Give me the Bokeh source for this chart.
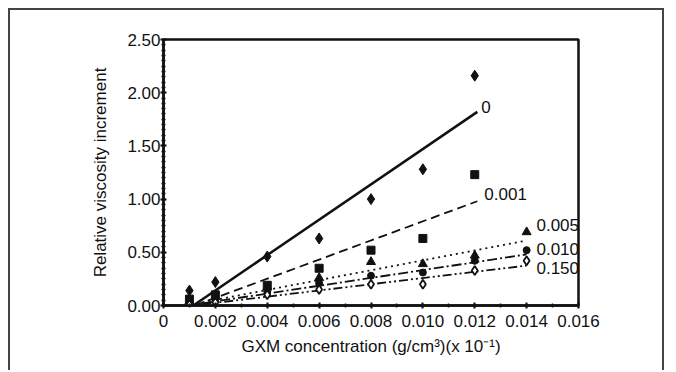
from bokeh.plotting import figure
from bokeh.models import Range1d, FixedTicker, NumeralTickFormatter
from bokeh.core.properties import value
from bokeh.embed import file_html
from bokeh.resources import INLINE

# ---- data ----
conc = [0.001, 0.002, 0.004, 0.006, 0.008, 0.010, 0.012]
conc_ext = [0.001, 0.002, 0.004, 0.006, 0.008, 0.010, 0.012, 0.014]
vis_0 = [0.14, 0.22, 0.46, 0.63, 1.00, 1.28, 2.16]
vis_001 = [0.06, 0.10, 0.19, 0.35, 0.52, 0.63, 1.23]
vis_005 = [0.04, 0.08, 0.17, 0.26, 0.41, 0.39, 0.47, 0.69]
vis_010 = [0.02, 0.06, 0.13, 0.21, 0.28, 0.31, 0.42, 0.52]
vis_150 = [0.01, 0.03, 0.10, 0.15, 0.20, 0.20, 0.33, 0.42]

# fitted lines (endpoints)
fit_0_x, fit_0_y = [0.00115, 0.0121], [0.0, 1.82]
fit_001_x, fit_001_y = [0.0012, 0.0121], [0.0, 0.98]
fit_005_x, fit_005_y = [0.0015, 0.0140], [0.03, 0.61]
fit_010_x, fit_010_y = [0.0015, 0.0140], [0.02, 0.48]
fit_150_x, fit_150_y = [0.0015, 0.0140], [0.01, 0.375]

series_labels = ["0", "0.001", "0.005", "0.010", "0.150"]
label_x = [0.01225, 0.01237, 0.01438, 0.01438, 0.01438]
label_y = [1.87, 1.05, 0.76, 0.535, 0.357]

x_ticks = [0, 0.002, 0.004, 0.006, 0.008, 0.010, 0.012, 0.014, 0.016]
y_ticks = [0.0, 0.5, 1.0, 1.5, 2.0, 2.5]

INK = "#111111"
FONT = "Liberation Sans"

p = figure(width=656, height=362, output_backend="svg", toolbar_location=None,
           x_range=Range1d(0, 0.016), y_range=Range1d(0, 2.5),
           min_border_left=153, min_border_right=88, min_border_top=29, min_border_bottom=67)
p.styles = {"margin-left": "8px", "margin-top": "8px",
            "border-top": "2px solid #444", "border-left": "2px solid #444",
            "border-right": "2px solid #444"}
p.grid.visible = False
p.outline_line_color = INK
p.outline_line_width = 2.5
p.background_fill_color = "white"
p.border_fill_color = "white"

# axes
p.xaxis.ticker = FixedTicker(ticks=x_ticks, minor_ticks=[i * 0.001 for i in range(17)])
p.yaxis.ticker = FixedTicker(ticks=y_ticks, minor_ticks=[i * 0.05 for i in range(51)])
p.xaxis.formatter = NumeralTickFormatter(format="0.000")
p.xaxis.major_label_overrides = {0: "0"}
p.yaxis.formatter = NumeralTickFormatter(format="0.00")
for ax in (p.xaxis, p.yaxis):
    ax.axis_line_color = INK
    ax.axis_line_width = 2.5
    ax.major_tick_line_color = INK
    ax.minor_tick_line_color = INK
    ax.major_tick_line_width = 2
    ax.minor_tick_line_width = 1.5
    ax.major_tick_in = 3
    ax.major_tick_out = 3
    ax.minor_tick_in = 2
    ax.minor_tick_out = 2
    ax.major_label_text_font = FONT
    ax.major_label_text_font_size = "17px"
    ax.major_label_text_color = INK
    ax.axis_label_text_font = FONT
    ax.axis_label_text_font_size = "17px"
    ax.axis_label_text_font_style = "normal"
    ax.axis_label_text_color = INK
p.yaxis.major_label_standoff = 0
p.xaxis.major_label_standoff = 6
p.yaxis.axis_label = "Relative viscosity increment"
p.xaxis.axis_label = "GXM concentration (g/cm\u00b3)(x 10\u207b\u00b9)"
p.yaxis.axis_label_standoff = 14
p.xaxis.axis_label_standoff = 7

# fitted lines
p.line(fit_0_x, fit_0_y, line_color=INK, line_width=2.5)
p.line(fit_001_x, fit_001_y, line_color=INK, line_width=1.8, line_dash="9 5")
p.line(fit_005_x, fit_005_y, line_color=INK, line_width=1.8, line_dash="2 4")
p.line(fit_010_x, fit_010_y, line_color=INK, line_width=1.8, line_dash="10 3 2 3")
p.line(fit_150_x, fit_150_y, line_color=INK, line_width=1.8, line_dash="9 3 2 3 2 3")

# markers
p.scatter(conc, vis_0, marker="diamond", size=11, fill_color=INK, line_color=INK)
p.scatter(conc, vis_001, marker="square", size=8, fill_color=INK, line_color=INK)
p.scatter(conc_ext, vis_005, marker="triangle", size=9, fill_color=INK, line_color=INK)
p.scatter(conc_ext, vis_010, marker="circle", size=7, fill_color=INK, line_color=INK)
p.scatter(conc_ext, vis_150, marker="diamond", size=9, fill_color="white", line_color=INK,
          line_width=1.8)

# series labels
p.text(x=label_x, y=label_y, text=series_labels, text_font=value(FONT),
       text_font_size="17px", text_color=INK, text_align="left", text_baseline="middle")

open("out.html", "w").write(file_html(p, INLINE))
